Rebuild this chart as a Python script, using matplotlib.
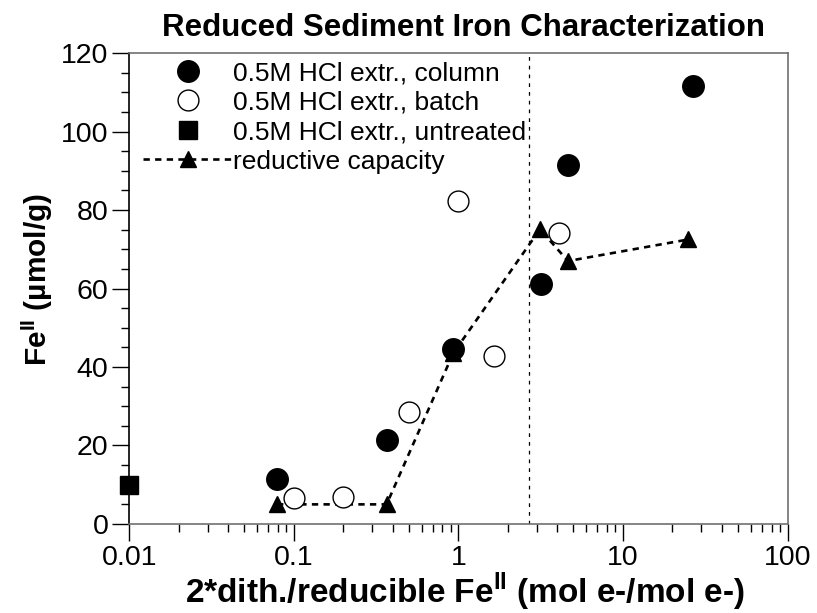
import matplotlib
matplotlib.use("Agg")
import matplotlib.pyplot as plt
from matplotlib.ticker import LogLocator, FixedLocator, NullFormatter, FuncFormatter

plt.rcParams['font.family'] = ['Liberation Sans', 'DejaVu Sans']
plt.rcParams['mathtext.fontset'] = 'custom'
plt.rcParams['mathtext.rm'] = 'Liberation Sans'
plt.rcParams['mathtext.bf'] = 'Liberation Sans:bold'

# 0.5M HCl extractions
column_x = [0.079, 0.366, 0.93, 3.16, 4.64, 26.8]
column_y = [11.5, 21.4, 44.6, 61.1, 91.4, 111.6]
batch_x = [0.1, 0.2, 0.5, 1.0, 1.65, 4.1]
batch_y = [6.6, 7.0, 28.5, 82.4, 42.9, 74.1]
untreated_x = [0.01]
untreated_y = [9.9]

# reductive capacity
cap_x = [0.079, 0.366, 0.93, 3.13, 4.63, 25.0]
cap_y = [5.0, 5.0, 43.5, 75.1, 67.0, 72.5]

split_x = 2.68

fig = plt.figure(figsize=(8.17, 6.13), dpi=100)
ax = fig.add_axes([0.1583, 0.1452, 0.9639 - 0.1583, 0.9135 - 0.1452])

ax.axvline(split_x, color='black', lw=0.9, ls=(0, (3, 4)), zorder=1)

ax.plot(cap_x, cap_y, color='black', lw=1.9, ls=(0, (2.4, 2.0)),
        marker='^', ms=12, mfc='black', mec='black', clip_on=False,
        zorder=2, label='reductive capacity')
ax.plot(column_x, column_y, ls='none', marker='o', ms=15.5, mfc='black',
        mec='black', clip_on=False, zorder=3, label='0.5M HCl extr., column')
ax.plot(batch_x, batch_y, ls='none', marker='o', ms=15, mfc='white',
        mec='black', mew=1.0, clip_on=False, zorder=3,
        label='0.5M HCl extr., batch')
ax.plot(untreated_x, untreated_y, ls='none', marker='s', ms=12.5,
        mfc='black', mec='black', clip_on=False, zorder=3,
        label='0.5M HCl extr., untreated')

ax.set_xscale('log')
ax.set_xlim(0.01, 100)
ax.set_ylim(0, 120)

ax.xaxis.set_major_locator(FixedLocator([0.01, 0.1, 1, 10, 100]))
ax.xaxis.set_major_formatter(FuncFormatter(lambda v, p: '{:g}'.format(v)))
ax.xaxis.set_minor_locator(LogLocator(base=10, subs=range(2, 10)))
ax.xaxis.set_minor_formatter(NullFormatter())
ax.set_yticks(range(0, 121, 20))
ax.set_yticks(range(0, 121, 5), minor=True)

ax.tick_params(which='major', direction='out', length=12, width=1,
               labelsize=20.5, pad=3, top=False, right=False)
ax.tick_params(which='minor', direction='out', length=6, width=1,
               top=False, right=False)

for side in ['top', 'right', 'bottom']:
    ax.spines[side].set_color('#707070')
ax.spines['left'].set_color('black')
for s in ax.spines.values():
    s.set_linewidth(1.2)

ax.set_title('Reduced Sediment Iron Characterization', fontsize=22.5,
             fontweight='bold', pad=12, x=0.507)
ax.set_xlabel(r'2*dith./reducible Fe$^{\mathbf{II}}$ (mol e-/mol e-)',
              fontsize=24, fontweight='bold', labelpad=0, x=0.51)
ax.set_ylabel(r'Fe$^{\mathbf{II}}$ (µmol/g)', fontsize=21.5,
              fontweight='bold', labelpad=4, y=0.52)

handles, labels = ax.get_legend_handles_labels()
order = [1, 2, 3, 0]
ax.legend([handles[i] for i in order], [labels[i] for i in order],
          loc='upper left', bbox_to_anchor=(14 / 658, 1 - 8 / 471),
          frameon=False, fontsize=19, handlelength=3.4, handletextpad=0.0,
          labelspacing=0.21, borderpad=0, borderaxespad=0, markerscale=1.0)

fig.savefig('out.png', dpi=100)
